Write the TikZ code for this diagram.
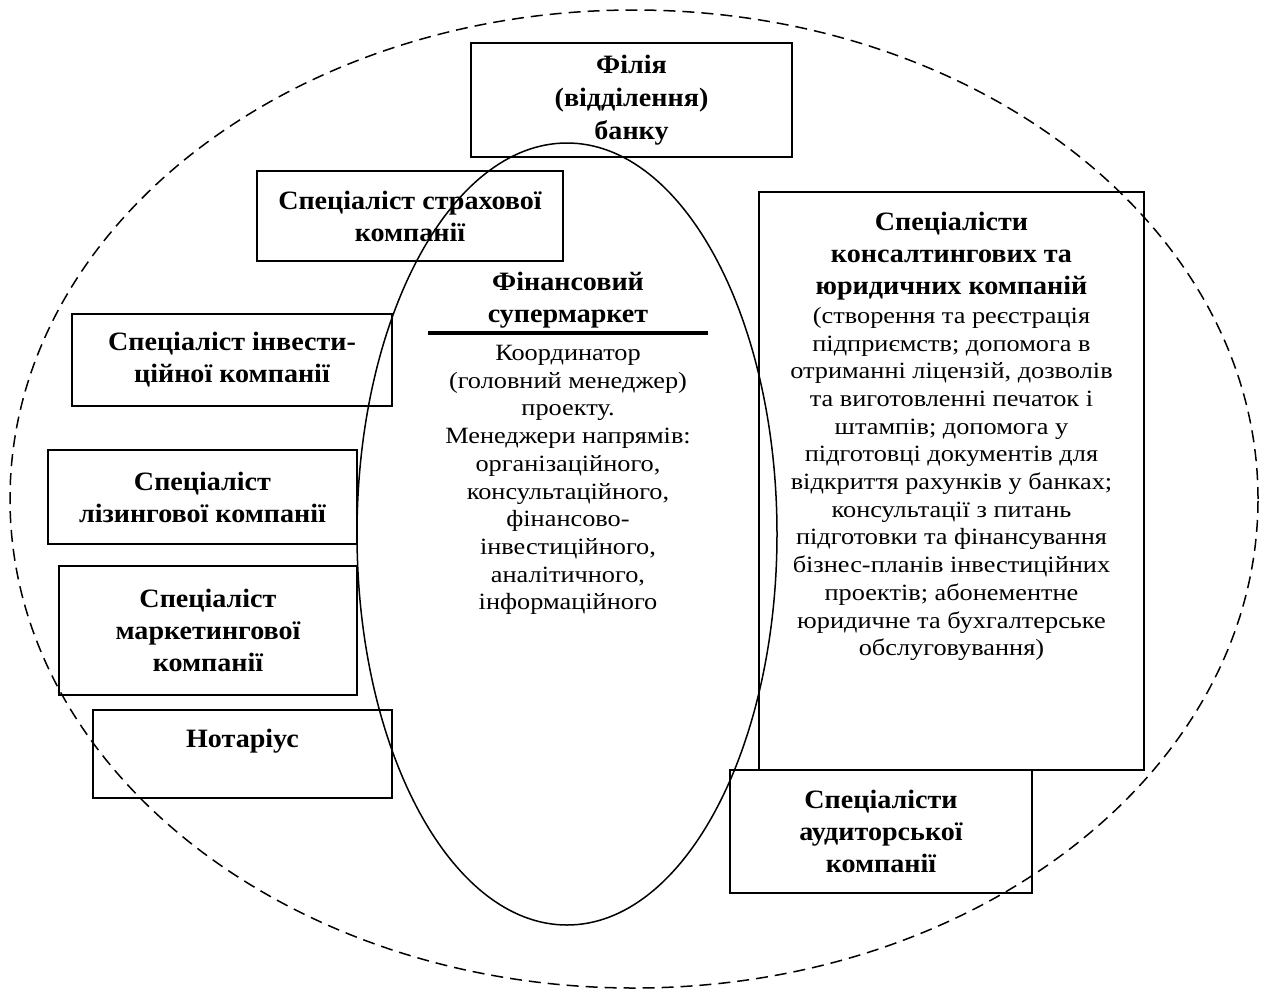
\documentclass[tikz,border=0pt]{standalone}
\usepackage{fontspec}
\setmainfont{Liberation Serif}
\newfontfamily\nfam[FakeStretch=1.13]{Liberation Serif}
\newfontfamily\bfam[FakeStretch=1.06]{Liberation Serif}
\usetikzlibrary{shapes.geometric}
\newcommand\bsz{\bfam\fontsize{26.5}{32}\selectfont\bfseries}
\newcommand\nsz{\nfam\fontsize{23.3}{27.7}\selectfont}
\begin{document}
\begin{tikzpicture}[x=1pt,y=-1pt,
  box/.style={draw, line width=1.8pt, inner sep=0pt, align=center, font=\bsz},
  oval/.style={draw, ellipse, inner sep=0pt},
  btext/.style={inner sep=0pt, align=center, font=\bsz},
  ntext/.style={inner sep=0pt, align=center, font=\nsz}]
\useasboundingbox (0,0) rectangle (1261,989);
% ellipses
\node[oval, dash pattern=on 12pt off 7pt, line width=1.5pt, minimum width=1248, minimum height=978] (outer) at (634,499) {};
\node[oval, line width=1.5pt, minimum width=420, minimum height=782] (fs) at (567,534) {};
% boxes
\node[box, minimum width=321, minimum height=114] (filia) at (631.5,100) {Філія\\[1pt](відділення)\\[1pt]банку};
\node[box, minimum width=306, minimum height=90] (strah) at (410,216) {Спеціаліст страхової\\компанії};
\node[box, minimum width=320, minimum height=92] (invest) at (232,360) {Спеціаліст інвести-\\ційної компанії};
\node[box, minimum width=309, minimum height=94] (lizing) at (202.5,497) {Спеціаліст\\лізингової компанії};
\node[box, minimum width=298, minimum height=129] (market) at (208,630.5) {Спеціаліст\\маркетингової\\компанії};
\node[box, minimum width=299, minimum height=88] (notar) at (242.5,754) {Нотаріус\\\mbox{}};
\node[box, minimum width=385, minimum height=578] (cons) at (951.5,481) {};
\node[box, minimum width=302, minimum height=123] (audit) at (881,831.5) {Спеціалісти\\аудиторської\\компанії};
% consulting text
\node[btext] (constitle) at (951.5,256) {Спеціалісти\\консалтингових та\\юридичних компаній};
\node[ntext] (consbody) at (951.5,484) {(створення та реєстрація\\підприємств; допомога в\\отриманні ліцензій, дозволів\\та виготовленні печаток і\\штампів; допомога у\\підготовці документів для\\відкриття рахунків у банках;\\консультації з питань\\підготовки та фінансування\\бізнес-планів інвестиційних\\проектів; абонементне\\юридичне та бухгалтерське\\обслуговування)};
% central text
\node[btext] (fstitle) at (568,300) {Фінансовий\\супермаркет};
\coordinate (ruleL) at (428,333);
\coordinate (ruleR) at (708,333);
\draw[line width=3.3pt] (ruleL) -- (ruleR);
\node[ntext] (fsbody) at (568,480) {Координатор\\(головний менеджер)\\проекту.\\Менеджери напрямів:\\організаційного,\\консультаційного,\\фінансово-\\інвестиційного,\\аналітичного,\\інформаційного};
\end{tikzpicture}
\end{document}
